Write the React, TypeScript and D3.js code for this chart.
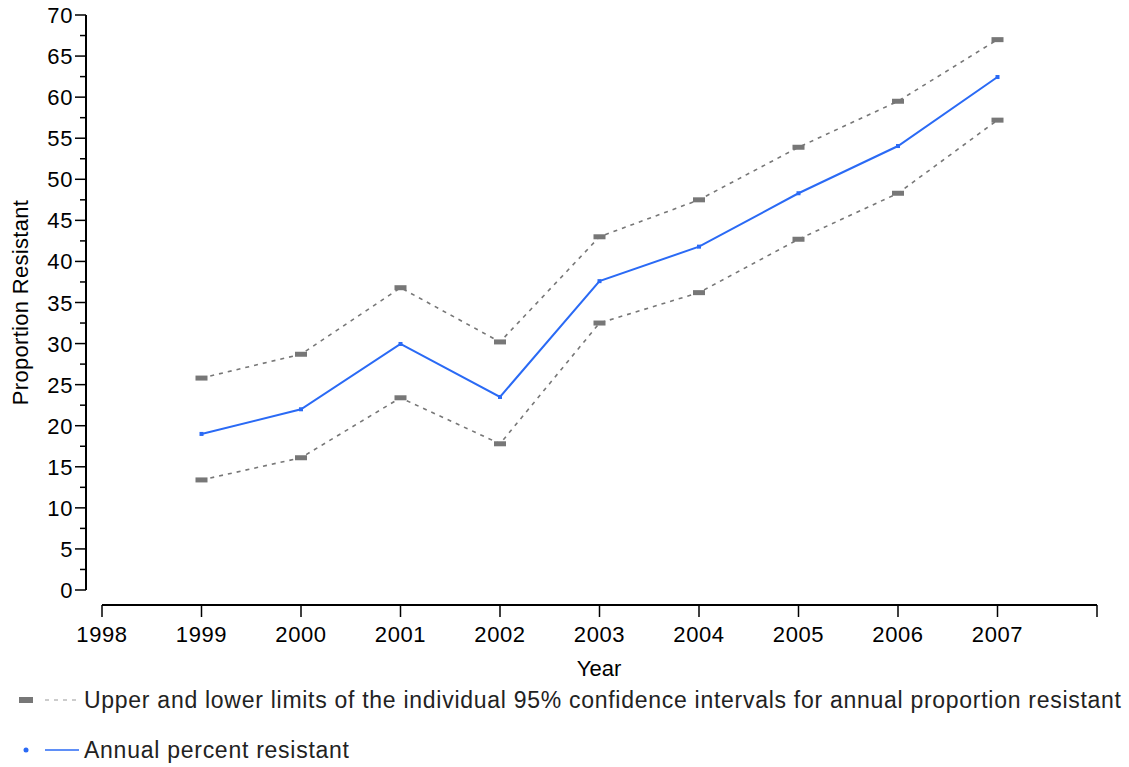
import React from 'react';
import * as d3 from 'd3';

const years = [1999, 2000, 2001, 2002, 2003, 2004, 2005, 2006, 2007];
const annualPercent = [19.0, 22.0, 29.95, 23.5, 37.6, 41.8, 48.3, 54.05, 62.45];
const upperLimit = [25.8, 28.7, 36.8, 30.2, 43.0, 47.5, 53.9, 59.5, 67.0];
const lowerLimit = [13.4, 16.1, 23.4, 17.8, 32.5, 36.2, 42.7, 48.3, 57.2];
const xTickLabels = [1998, 1999, 2000, 2001, 2002, 2003, 2004, 2005, 2006, 2007];
const yTicks = d3.range(0, 71, 5);
const yMinorTicks = d3.range(2.5, 70, 5);

const W = 1129;
const H = 767;
const FONT = '"Liberation Sans", Arial, sans-serif';

export default function App() {
  // scales
  const x = d3.scaleLinear().domain([1998, 2008]).range([102, 1097]);
  const y = d3.scaleLinear().domain([0, 70]).range([590, 15]);
  const xAxisY = 605;
  const yAxisX = 86;

  const line = d3.line<[number, number]>()
    .x(d => x(d[0]))
    .y(d => y(d[1]));

  const upper = years.map((yr, i) => [yr, upperLimit[i]] as [number, number]);
  const lower = years.map((yr, i) => [yr, lowerLimit[i]] as [number, number]);
  const mean = years.map((yr, i) => [yr, annualPercent[i]] as [number, number]);

  return (
    <svg width={W} height={H} style={{ position: 'absolute', left: 0, top: 0, background: '#fff' }}
      fontFamily={FONT}>
      {/* y axis */}
      <line x1={yAxisX} x2={yAxisX} y1={y(70)} y2={y(0)} stroke="#000" strokeWidth={2} />
      {yTicks.map(t => (
        <g key={t}>
          <line x1={yAxisX - 11} x2={yAxisX} y1={y(t)} y2={y(t)} stroke="#000" strokeWidth={1.5} />
          <text x={yAxisX - 13} y={y(t) + 8} textAnchor="end" fontSize={22} letterSpacing={0.6} fill="#000">{t}</text>
        </g>
      ))}
      {yMinorTicks.map(t => (
        <line key={t} x1={yAxisX - 6} x2={yAxisX} y1={y(t)} y2={y(t)} stroke="#000" strokeWidth={1.5} />
      ))}
      <text transform={`translate(28,${y(35)}) rotate(-90)`} textAnchor="middle" fontSize={22} letterSpacing={0.3} fill="#000">
        Proportion Resistant
      </text>

      {/* x axis */}
      <line x1={x(1998)} x2={x(2008)} y1={xAxisY} y2={xAxisY} stroke="#000" strokeWidth={2} />
      {[...xTickLabels, 2008].map(t => (
        <line key={t} x1={x(t)} x2={x(t)} y1={xAxisY} y2={xAxisY + 12} stroke="#000" strokeWidth={1.5} />
      ))}
      {xTickLabels.map(t => (
        <text key={t} x={x(t)} y={642} textAnchor="middle" fontSize={22} letterSpacing={0.6} fill="#000">{t}</text>
      ))}
      <text x={599} y={676} textAnchor="middle" fontSize={22} fill="#000">Year</text>

      {/* confidence limits */}
      {[upper, lower].map((pts, k) => (
        <g key={k}>
          <path d={line(pts) || ''} fill="none" stroke="#777" strokeWidth={1.6} strokeDasharray="4,5" />
          {pts.map(p => (
            <rect key={p[0]} x={x(p[0]) - 6} y={y(p[1]) - 2.5} width={12} height={5} fill="#777" />
          ))}
        </g>
      ))}

      {/* annual percent */}
      <path d={line(mean) || ''} fill="none" stroke="#2a6af5" strokeWidth={2} />
      {mean.map(p => (
        <rect key={p[0]} x={x(p[0]) - 2} y={y(p[1]) - 2} width={4} height={4} fill="#2a6af5" />
      ))}

      {/* legend */}
      <rect x={19} y={697} width={14} height={6} fill="#777" />
      <line x1={45} x2={78} y1={700} y2={700} stroke="#999" strokeWidth={1.2} strokeDasharray="4,5" />
      <text x={84} y={708} fontSize={23} fill="#222" textLength={1037} lengthAdjust="spacing">
        Upper and lower limits of the individual 95% confidence intervals for annual proportion resistant
      </text>
      <circle cx={26} cy={750} r={2.5} fill="#2a6af5" />
      <line x1={45} x2={79} y1={750} y2={750} stroke="#2a6af5" strokeWidth={1.5} />
      <text x={84} y={758} fontSize={23} fill="#222" textLength={265} lengthAdjust="spacing">Annual percent resistant</text>
    </svg>
  );
}
